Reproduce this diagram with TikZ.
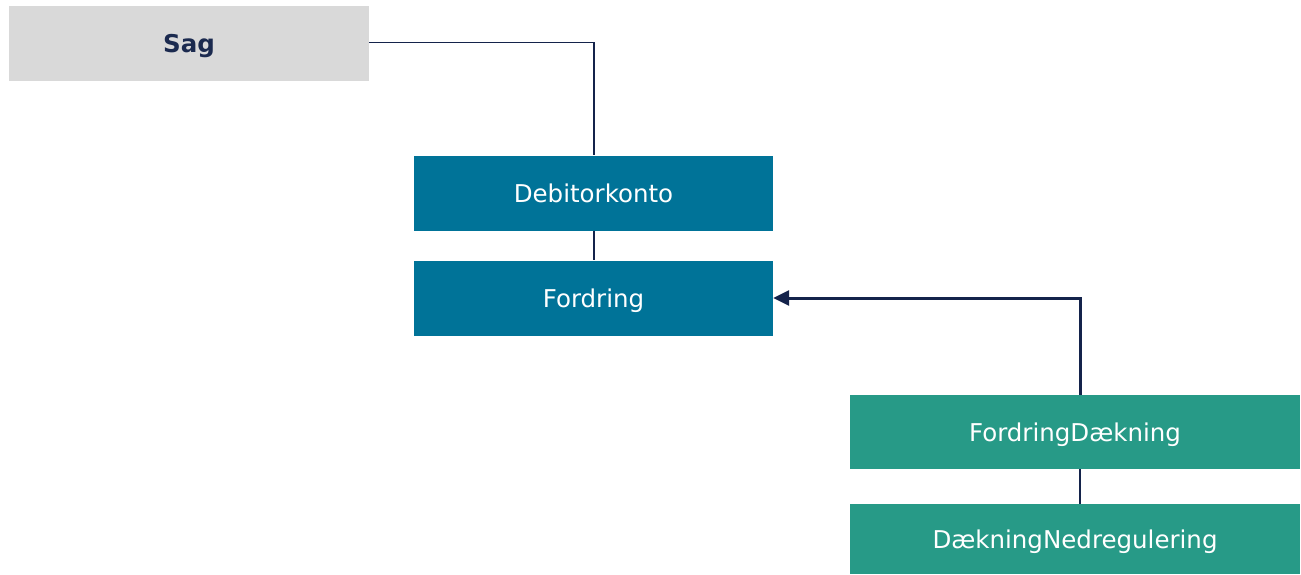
\documentclass[tikz,border=0pt]{standalone}
\usepackage{fontspec}
\setmainfont{DejaVu Sans}
\usetikzlibrary{arrows.meta}
\definecolor{boxgray}{HTML}{D9D9D9}
\definecolor{boxblue}{HTML}{007398}
\definecolor{boxteal}{HTML}{279A87}
\definecolor{linenavy}{HTML}{14234B}
\definecolor{textnavy}{HTML}{1B2A4F}
\tikzset{
  box/.style={rectangle, inner sep=0pt, minimum width=#1, anchor=center, text depth=0pt, font=\fontsize{24.5}{28}\selectfont},
  bluebox/.style={box=359pt, minimum height=75pt, fill=boxblue, text=white},
  tealbox/.style={box=450pt, fill=boxteal, text=white},
  link/.style={draw=linenavy, line width=1.5pt},
  arrowlink/.style={draw=linenavy, line width=3pt, -{Triangle[length=16pt,width=15pt]}}
}
\begin{document}
\begin{tikzpicture}[x=1pt,y=-1pt]
\useasboundingbox (0,0) rectangle (1301,574);
\node[box=360pt, minimum height=75pt, fill=boxgray, text=textnavy, font=\fontsize{24.5}{28}\selectfont\bfseries] (sag) at (189,43.5) {Sag};
\node[bluebox] (debitor) at (593.5,193) {Debitorkonto};
\node[bluebox] (fordring) at (593.5,298) {Fordring};
\node[tealbox, minimum height=74pt] (fdaek) at (1075,432) {FordringDækning};
\node[tealbox, minimum height=70pt] (dned) at (1075,539) {DækningNedregulering};
\coordinate (c1) at (594,42.5);
\coordinate (c2) at (1080,298);
\draw[link] (sag.east |- c1) -- (c1) -- (c1 |- debitor.north);
\draw[link] (594,0 |- debitor.south) -- (594,0 |- fordring.north);
\draw[link] (1080,0 |- fdaek.south) -- (1080,0 |- dned.north);
\draw[arrowlink] (1080,0 |- fdaek.north) -- (c2) -- (fordring.east |- c2);
\end{tikzpicture}
\end{document}
